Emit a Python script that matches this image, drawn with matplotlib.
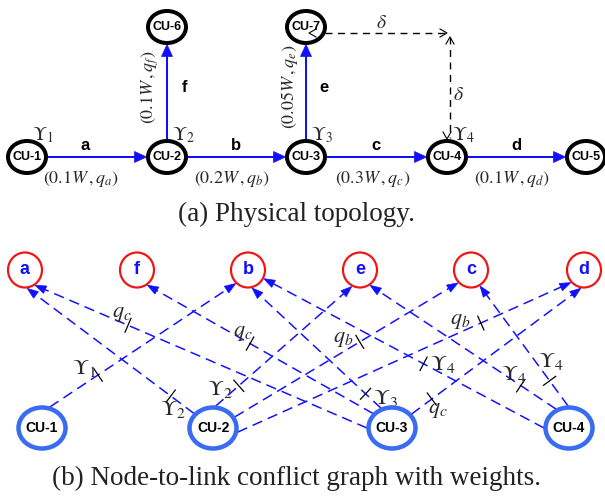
import numpy as np
import matplotlib
matplotlib.use("Agg")
import matplotlib.pyplot as plt
from matplotlib.patches import Ellipse, Polygon

plt.rcParams["mathtext.fontset"] = "stix"

# ---------------- (a) physical topology ----------------
cu_names = ["CU-1", "CU-2", "CU-3", "CU-4", "CU-5", "CU-6", "CU-7"]
cu_x = [27, 167, 306, 447, 586, 167, 306]
cu_y = [157, 157, 157, 157, 157, 27, 27]

link_names = ["a", "b", "c", "d", "f", "e"]
link_from = ["CU-1", "CU-2", "CU-3", "CU-4", "CU-2", "CU-3"]
link_to = ["CU-2", "CU-3", "CU-4", "CU-5", "CU-6", "CU-7"]
link_share = ["0.1", "0.2", "0.3", "0.1", "0.1", "0.05"]

upsilon_nodes = ["CU-1", "CU-2", "CU-3", "CU-4"]

# ---------------- (b) node-to-link conflict graph ----------------
conf_links = ["a", "f", "b", "e", "c", "d"]
conf_link_x = [25, 137, 248, 360, 471, 584]
conf_link_y = 270
conf_nodes = ["CU-1", "CU-2", "CU-3", "CU-4"]
conf_node_x = [42, 213, 392, 569]
conf_node_y = 428

edge_node = ["CU-1", "CU-2", "CU-2", "CU-2", "CU-2", "CU-3",
             "CU-3", "CU-3", "CU-3", "CU-4", "CU-4", "CU-4"]
edge_link = ["b", "a", "e", "c", "d", "a", "f", "b", "d", "b", "e", "c"]
edge_weight = [r"\Upsilon_1", r"\Upsilon_2", r"\Upsilon_2", "q_b", "q_b", "q_c",
               "q_c", r"\Upsilon_3", "q_c", r"\Upsilon_4", r"\Upsilon_4", r"\Upsilon_4"]

# layout of the conflict edges: attachment angles on the ellipses (deg),
# position of the weight tick along the edge, and label offset from the tick
port_node = [72, 139, 84, 30, -11, 180, 139, 116, 39, 180, 121, 92]
port_link = [227, -83, -117, -136, -137, -56, -55, -77, -100, -28, -56, -60]
tick_pos = [0.26, 0.14, 0.17, 0.56, 0.73, 0.72, 0.545, 0.12, 0.12, 0.43, 0.19, 0.21]
label_off = [(-14, -6), (2, 13), (-19, 4), (-17, -3), (-21, -2), (-6, -11),
             (-7, -11), (20, 5), (6, 11), (19, 1), (-7, -11), (1, -19)]

BLUE = "#1010ff"
RING_BLUE = "#3a6cf2"
RED = "#ee1515"
TXT = "#2a2a2a"

fig = plt.figure(figsize=(6.05, 5.0), dpi=100)
ax = fig.add_axes([0, 0, 1, 1])
ax.set_xlim(0, 605)
ax.set_ylim(500, 0)
ax.axis("off")
PX = 0.72  # points per pixel


def head(tip, u, length, width, color, z=5):
    n = np.array([-u[1], u[0]])
    base = tip - length * u
    ax.add_patch(Polygon([tip, base + n * width / 2, base - n * width / 2],
                         closed=True, fc=color, ec=color, lw=0.5, zorder=z))
    return base


def chevron(tip, u, length=7, width=8, color="black"):
    n = np.array([-u[1], u[0]])
    base = tip - length * u
    pts = np.array([base + n * width / 2, tip, base - n * width / 2])
    ax.plot(pts[:, 0], pts[:, 1], color=color, lw=0.8, zorder=8)


# ---- physical topology nodes
RX, RY = 19, 16
pos = {n: np.array([x, y], float) for n, x, y in zip(cu_names, cu_x, cu_y)}
for n in cu_names:
    ax.add_patch(Ellipse(pos[n], 2 * RX, 2 * RY, fc="white", ec="black",
                         lw=4 * PX, zorder=6))
    ax.text(pos[n][0], pos[n][1], n, ha="center", va="center", fontsize=9,
            fontweight="bold", family="Liberation Sans", zorder=7)

# ---- physical links
for name, s, d, share in zip(link_names, link_from, link_to, link_share):
    p0, p1 = pos[s], pos[d]
    u = (p1 - p0) / np.linalg.norm(p1 - p0)
    horiz = abs(u[0]) > 0.5
    r = RX + 1 if horiz else RY + 1
    start = p0 + u * r
    tip = p1 - u * (r + 0.5)
    base = head(tip, u, 12, 11, BLUE)
    ax.plot([start[0], base[0]], [start[1], base[1]], color=BLUE, lw=2 * PX, zorder=4)
    mid = (p0 + p1) / 2
    wlabel = r"$(%s W\,,q_{%s})$" % (share, name)
    if horiz:
        dx = -12 if name == "a" else 0
        ax.text(mid[0] + dx, mid[1] - 11, name, ha="center", va="center",
                fontsize=12, fontweight="bold", family="Liberation Sans")
        ax.text(mid[0] + dx - 4, mid[1] + 22, wlabel, ha="center", va="center",
                fontsize=13, color=TXT)
    else:
        ax.text(mid[0] + 18, mid[1] - 5, name, ha="center", va="center",
                fontsize=12, fontweight="bold", family="Liberation Sans")
        ax.text(mid[0] - 17, mid[1] - 5, wlabel, ha="center", va="center",
                fontsize=13, color=TXT, rotation=90)

for i, n in enumerate(upsilon_nodes):
    ax.text(pos[n][0] + 16, pos[n][1] - 22, r"$\Upsilon_{%d}$" % (i + 1),
            ha="center", va="center", fontsize=14, color=TXT, zorder=8)

# ---- delay path between CU-7 and CU-4
c7, c4 = pos["CU-7"], pos["CU-4"]
y_h = c7[1] + 6
x_v = c4[0] + 3
dash = (0, (5, 4))
ax.plot([c7[0] + RX, x_v - 2], [y_h, y_h], color="black", lw=1.0, ls=dash, zorder=3)
chevron(np.array([c7[0] + 3, y_h]), np.array([-1.0, 0.0]))
chevron(np.array([x_v - 3, y_h]), np.array([1.0, 0.0]))
ax.plot([x_v, x_v], [y_h + 4, c4[1] - RY - 3], color="black", lw=1.0, ls=dash, zorder=3)
chevron(np.array([x_v, y_h + 4]), np.array([0.0, -1.0]))
chevron(np.array([x_v - 3, c4[1] - RY - 2]), np.array([0.0, 1.0]))
ax.text((c7[0] + x_v) / 2 + 3, y_h - 11, r"$\delta$", ha="center", va="center",
        fontsize=14, color=TXT)
ax.text(x_v + 8, (y_h + c4[1]) / 2, r"$\delta$", ha="center", va="center",
        fontsize=14, color=TXT)

ax.text(296, 214, "(a) Physical topology.", ha="center", va="center",
        fontsize=19.5, family="Liberation Serif", color="#222222")

# ---- conflict graph nodes
LRX, LRY = 17, 17.5
NRX, NRY = 23.5, 20.5
lpos = {n: np.array([x, conf_link_y], float) for n, x in zip(conf_links, conf_link_x)}
npos = {n: np.array([x, conf_node_y], float) for n, x in zip(conf_nodes, conf_node_x)}
for n in conf_links:
    ax.add_patch(Ellipse(lpos[n], 2 * LRX, 2 * LRY, fc="white", ec=RED,
                         lw=2.2 * PX, zorder=6))
    ax.text(lpos[n][0], lpos[n][1], n, ha="center", va="center", fontsize=13,
            fontweight="bold", color=BLUE, family="Liberation Sans", zorder=7)
for n in conf_nodes:
    ax.add_patch(Ellipse(npos[n], 2 * NRX, 2 * NRY, fc="white", ec=RING_BLUE,
                         lw=4.5 * PX, zorder=6))
    ax.text(npos[n][0], npos[n][1], n, ha="center", va="center", fontsize=10,
            fontweight="bold", family="Liberation Sans", zorder=7)


def on_ellipse(c, rx, ry, ang):
    a = np.deg2rad(ang)
    return c + np.array([rx * np.cos(a), -ry * np.sin(a)])


for k in range(len(edge_node)):
    start = on_ellipse(npos[edge_node[k]], NRX + 1.5, NRY + 1.5, port_node[k])
    tip = on_ellipse(lpos[edge_link[k]], LRX + 1, LRY + 1, port_link[k])
    u = (tip - start) / np.linalg.norm(tip - start)
    base = head(tip, u, 11, 8, BLUE)
    ax.plot([start[0], base[0]], [start[1], base[1]], color=BLUE, lw=1.5 * PX,
            ls=(0, (7, 4)), zorder=3)
    t = start + tick_pos[k] * (tip - start)
    nrm = np.array([-u[1], u[0]])
    a0, a1 = t - 7.5 * nrm, t + 7.5 * nrm
    ax.plot([a0[0], a1[0]], [a0[1], a1[1]], color="black", lw=0.9, zorder=4)
    ax.text(t[0] + label_off[k][0], t[1] + label_off[k][1], "$%s$" % edge_weight[k],
            ha="center", va="center", fontsize=16, color=TXT, zorder=5)

ax.text(296, 478, "(b) Node-to-link conflict graph with weights.", ha="center",
        va="center", fontsize=19.5, family="Liberation Serif", color="#222222")

fig.savefig("out.png", dpi=100)
